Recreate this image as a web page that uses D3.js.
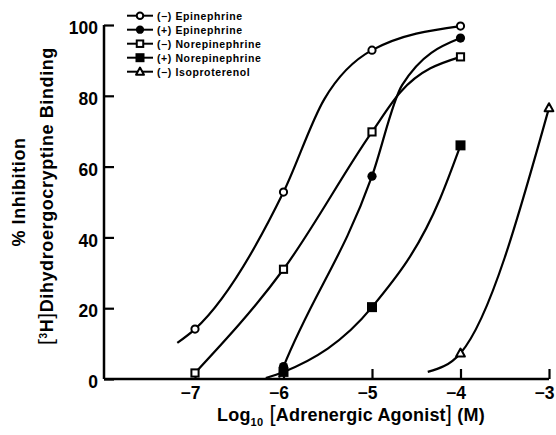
<!DOCTYPE html>
<html><head><meta charset="utf-8">
<script src="https://cdn.jsdelivr.net/npm/d3@7"></script>
<style>
body{margin:0;background:#fff}
text{font-family:"Liberation Sans",Arial,sans-serif;fill:#000}
</style>
</head><body>
<svg id="chart" width="556" height="435"></svg>
<script>
// ---------------- data ----------------
const xTicks = [-7, -6, -5, -4, -3];
const xTickLabels = ["−7", "−6", "−5", "−4", "−3"];
const yTicks = [0, 20, 40, 60, 80, 100];
const seriesNames = ["(−) Epinephrine", "(+) Epinephrine", "(−) Norepinephrine", "(+) Norepinephrine", "(−) Isoproterenol"];
const seriesSymbols = ["openCircle", "filledCircle", "openSquare", "filledSquare", "openTriangle"];

// measured points (log10 M, % inhibition)
const epiMinusX = [-7, -6, -5, -4];
const epiMinusY = [14.1, 52.8, 92.9, 99.7];
const epiPlusX = [-6, -5, -4];
const epiPlusY = [3.5, 57.3, 96.3];
const norMinusX = [-7, -6, -5, -4];
const norMinusY = [1.7, 31.0, 69.8, 91.0];
const norPlusX = [-6, -5, -4];
const norPlusY = [2.0, 20.3, 66.0];
const isoMinusX = [-4, -3];
const isoMinusY = [7.3, 76.6];

// hand-drawn fitted curves: knots (tails and bends)
const epiMinusCurveX = [-7.2, -7, -6, -5.54, -5, -4];
const epiMinusCurveY = [10.2, 14.1, 52.8, 79, 92.9, 99.7];
const epiPlusCurveX = [-6.05, -6, -5, -4.66, -4];
const epiPlusCurveY = [0.4, 3.5, 57.3, 83, 96.3];
const norMinusCurveX = [-7, -6, -5, -4.68, -4];
const norMinusCurveY = [1.7, 31.0, 69.8, 81, 91.0];
const norPlusCurveX = [-6.2, -6, -5, -4.23, -4];
const norPlusCurveY = [0.3, 2.0, 20.3, 51, 66.0];
const isoMinusCurveX = [-4.37, -4, -3];
const isoMinusCurveY = [2.0, 7.3, 76.6];

const seriesX = [epiMinusX, epiPlusX, norMinusX, norPlusX, isoMinusX];
const seriesY = [epiMinusY, epiPlusY, norMinusY, norPlusY, isoMinusY];
const curveX = [epiMinusCurveX, epiPlusCurveX, norMinusCurveX, norPlusCurveX, isoMinusCurveX];
const curveY = [epiMinusCurveY, epiPlusCurveY, norMinusCurveY, norPlusCurveY, isoMinusCurveY];

// ---------------- layout ----------------
const svg = d3.select("#chart");
const axisLeftX = 104, axisBottomY = 379;
const x = d3.scaleLinear().domain([-7, -3]).range([195, 549]);
const y = d3.scaleLinear().domain([0, 100]).range([379, 25]);

// axes
const gx = svg.append("g").attr("transform", `translate(0,${axisBottomY})`)
  .call(d3.axisBottom(x).tickValues(xTicks).tickFormat((d, i) => xTickLabels[i])
    .tickSizeInner(-10).tickSizeOuter(0).tickPadding(8));
gx.select(".domain").remove();
gx.selectAll(".tick line").attr("stroke", "#000").attr("stroke-width", 2.2);
gx.selectAll(".tick text").attr("font-size", 17.5).attr("font-weight", "bold")
  .attr("font-family", "Liberation Sans, Arial, sans-serif")
  .attr("text-anchor", "end").attr("x", 5);

const gy = svg.append("g").attr("transform", `translate(${axisLeftX},0)`)
  .call(d3.axisLeft(y).tickValues(yTicks).tickSizeInner(-10).tickSizeOuter(0).tickPadding(6));
gy.select(".domain").remove();
gy.selectAll(".tick line").attr("stroke", "#000").attr("stroke-width", 2.2);
gy.selectAll(".tick text").attr("font-size", 17.5).attr("font-weight", "bold").attr("dy", "0.5em")
  .attr("font-family", "Liberation Sans, Arial, sans-serif");

svg.append("line").attr("x1", axisLeftX).attr("x2", x(-3)).attr("y1", axisBottomY).attr("y2", axisBottomY)
  .attr("stroke", "#000").attr("stroke-width", 2.5);
svg.append("line").attr("x1", axisLeftX).attr("x2", axisLeftX).attr("y1", y(100)).attr("y2", axisBottomY)
  .attr("stroke", "#000").attr("stroke-width", 2.5);

// axis titles
const xt = svg.append("text").attr("x", 217).attr("y", 421).attr("font-size", 18).attr("font-weight", "bold").attr("letter-spacing", 0.2);
xt.append("tspan").text("Log");
xt.append("tspan").attr("font-size", 11).attr("dy", 5).text("10");
xt.append("tspan").attr("dy", -5).attr("font-size", 22).attr("font-weight", "normal").text(" [");
xt.append("tspan").text("Adrenergic Agonist");
xt.append("tspan").attr("font-size", 22).attr("font-weight", "normal").text("]");
xt.append("tspan").text(" (M)");

svg.append("text").attr("transform", "translate(25,192) rotate(-90)").attr("text-anchor", "middle")
  .attr("font-size", 18).attr("font-weight", "bold").attr("letter-spacing", 0.6).text("% Inhibition");
const yt = svg.append("text").attr("transform", "translate(53,196) rotate(-90)").attr("text-anchor", "middle")
  .attr("font-size", 18).attr("font-weight", "bold").attr("letter-spacing", 0.6);
yt.append("tspan").attr("font-weight", "normal").attr("font-size", 21).text("[");
yt.append("tspan").attr("font-size", 10).attr("dy", -6).text("3");
yt.append("tspan").attr("dy", 6).text("H");
yt.append("tspan").attr("font-weight", "normal").attr("font-size", 21).text("]");
yt.append("tspan").text("Dihydroergocryptine Binding");

// curves
const line = d3.line().x(d => x(d[0])).y(d => y(d[1])).curve(d3.curveMonotoneX);
curveX.forEach((xs, i) => {
  const pts = xs.map((v, j) => [v, curveY[i][j]]);
  svg.append("path").attr("d", line(pts)).attr("fill", "none").attr("stroke", "#000").attr("stroke-width", 2.2);
});

// markers
function drawMarker(g, type, cx, cy, s) {
  const sw = 2;
  if (type === "openCircle") g.append("circle").attr("cx", cx).attr("cy", cy).attr("r", 3.6 * s).attr("fill", "#fff").attr("stroke", "#000").attr("stroke-width", sw);
  else if (type === "filledCircle") g.append("circle").attr("cx", cx).attr("cy", cy).attr("r", 4.6 * s).attr("fill", "#000");
  else if (type === "openSquare") g.append("rect").attr("x", cx - 3.6 * s).attr("y", cy - 3.6 * s).attr("width", 7.2 * s).attr("height", 7.2 * s).attr("fill", "#fff").attr("stroke", "#000").attr("stroke-width", sw);
  else if (type === "filledSquare") g.append("rect").attr("x", cx - 5 * s).attr("y", cy - 5 * s).attr("width", 10 * s).attr("height", 10 * s).attr("fill", "#000");
  else if (type === "openTriangle") g.append("path").attr("d", `M${cx},${cy - 4.6 * s}L${cx + 4.4 * s},${cy + 3.4 * s}L${cx - 4.4 * s},${cy + 3.4 * s}Z`).attr("fill", "#fff").attr("stroke", "#000").attr("stroke-width", sw).attr("stroke-linejoin", "round");
}
const gm = svg.append("g");
seriesX.forEach((xs, i) => {
  xs.forEach((v, j) => drawMarker(gm, seriesSymbols[i], x(v), y(seriesY[i][j]), 1));
});

// legend
const lg = svg.append("g");
seriesNames.forEach((name, i) => {
  const ly = 15.7 + 14 * i;
  lg.append("line").attr("x1", 127).attr("x2", 153).attr("y1", ly).attr("y2", ly).attr("stroke", "#000").attr("stroke-width", 2);
  drawMarker(lg, seriesSymbols[i], 140, ly, 0.9);
  lg.append("text").attr("x", 157).attr("y", ly + 3.8).attr("font-size", 10.5).attr("font-weight", "bold")
    .attr("letter-spacing", 0.6).text(name);
});
</script>
</body></html>
